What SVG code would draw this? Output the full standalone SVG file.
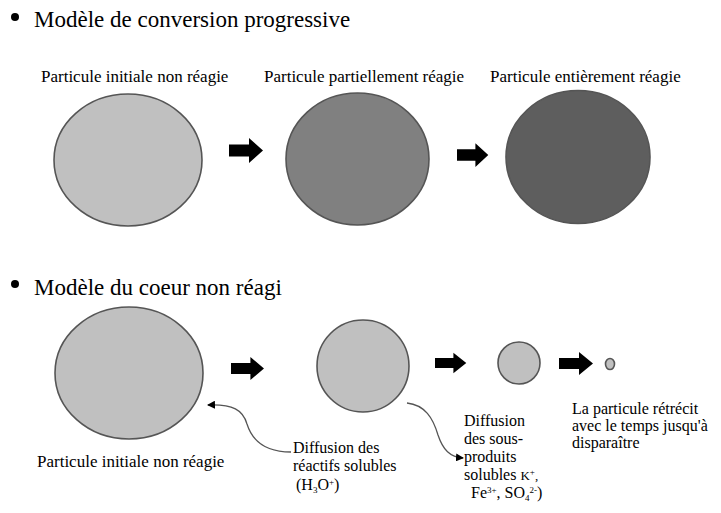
<svg xmlns="http://www.w3.org/2000/svg" xmlns:xlink="http://www.w3.org/1999/xlink" width="721" height="513" viewBox="0 0 721 513">
<style>
.t{font-family:'Liberation Serif','Times New Roman','DejaVu Serif',serif;fill:#000}
.title{font-size:23px}
.lbl{font-size:17px}
.sm{font-size:16px}
.p{stroke:#555;stroke-width:1.6}
.c1{fill:#c0c0c0}
.c2{fill:#808080}
.c3{fill:#5e5e5e}
.conn{fill:none;stroke:#555;stroke-width:1.3}
</style>
<defs>
<path id="blk" d="M0,-6 H20 V-12.5 L34,0 L20,12.5 V6 H0 Z" fill="#000"/>
<marker id="ah" markerWidth="8" markerHeight="8" refX="7" refY="4" orient="auto" markerUnits="userSpaceOnUse">
<path d="M0,0 L8,4 L0,8 Z" fill="#000"/>
</marker>
</defs>
<rect width="721" height="513" fill="#fff"/>

<g font-family="Liberation Serif, Times New Roman, serif">
<g id="title1">
<circle cx="15" cy="17" r="4" fill="#000"/>
<text class="t title" x="34" y="27">Modèle de conversion progressive</text>
</g>
<g id="title2">
<circle cx="15" cy="284" r="4" fill="#000"/>
<text class="t title" x="34" y="295">Modèle du coeur non réagi</text>
</g>

<g id="top-p1">
<text class="t lbl" x="41" y="82">Particule initiale non réagie</text>
<ellipse class="c1 p" cx="128" cy="160" rx="74" ry="66"/>
</g>
<g id="top-p2">
<text class="t lbl" x="264" y="82">Particule partiellement réagie</text>
<ellipse class="c2 p" cx="357.5" cy="159" rx="71.5" ry="66"/>
</g>
<g id="top-p3">
<text class="t lbl" x="490" y="82">Particule entièrement réagie</text>
<ellipse class="c3 p" cx="578" cy="157" rx="72" ry="66.5"/>
</g>

<g id="bot-p1">
<ellipse class="c1 p" cx="129" cy="373" rx="74" ry="66"/>
<text class="t lbl" x="37" y="467">Particule initiale non réagie</text>
</g>
<g id="bot-p2">
<circle class="c1 p" cx="363" cy="366" r="46"/>
</g>
<g id="bot-p3">
<circle class="c1 p" cx="519" cy="363" r="21"/>
</g>
<g id="bot-p4">
<ellipse class="c1 p" cx="610" cy="364" rx="4.5" ry="5.5" stroke-width="1.2"/>
</g>

<g id="label-reactifs">
<text class="t sm" x="293" y="453">Diffusion des</text>
<text class="t sm" x="293" y="471">réactifs solubles</text>
<text class="t sm" x="296" y="490" font-size="13">(H<tspan font-size="9" dy="3">3</tspan><tspan dy="-3">O</tspan><tspan font-size="9" dy="-5">+</tspan><tspan dy="5">)</tspan></text>
</g>
<g id="label-produits">
<text class="t sm" x="464" y="426">Diffusion</text>
<text class="t sm" x="464" y="444">des sous-</text>
<text class="t sm" x="464" y="462">produits</text>
<text class="t sm" x="464" y="480">solubles <tspan font-size="13">K</tspan><tspan font-size="9" dy="-5">+</tspan><tspan font-size="13" dy="5">,</tspan></text>
<text class="t sm" x="471" y="498" font-size="13">Fe<tspan font-size="9" dy="-5">3+</tspan><tspan dy="5">, SO</tspan><tspan font-size="9" dy="3">4</tspan><tspan font-size="9" dy="-8">2-</tspan><tspan dy="5">)</tspan></text>
</g>
<g id="label-shrink">
<text class="t sm" x="572" y="414">La particule rétrécit</text>
<text class="t sm" x="572" y="431">avec le temps jusqu'à</text>
<text class="t sm" x="572" y="448">disparaître</text>
</g>
</g>

<g id="connectors">
<use xlink:href="#blk" transform="translate(229,150.5)"/>
<use xlink:href="#blk" transform="translate(457,155) scale(0.92,0.95)"/>
<use xlink:href="#blk" transform="translate(231,368.5) scale(0.97,0.92)"/>
<use xlink:href="#blk" transform="translate(435,363) scale(0.92,0.82)"/>
<use xlink:href="#blk" transform="translate(559,363.5) scale(1,0.92)"/>
<path class="conn" d="M291,452 C265,452 252,440 247,424 C243,410 233,404 208,405" marker-end="url(#ah)"/>
<path class="conn" d="M407,403 C425,405 433,418 438,435 C443,450 450,457 463,458" marker-end="url(#ah)"/>
</g>
</svg>
